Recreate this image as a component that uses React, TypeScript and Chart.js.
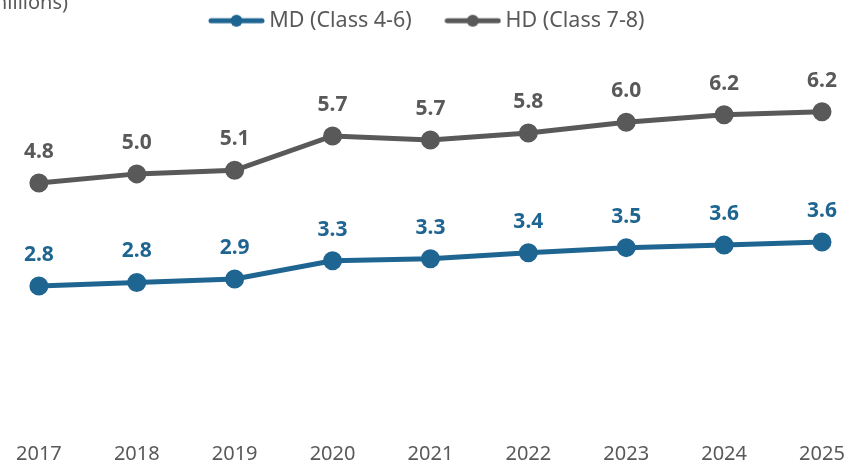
import React, { useEffect, useRef } from "react";
import { Chart, registerables } from "chart.js";

Chart.register(...registerables);

const years = ["2017", "2018", "2019", "2020", "2021", "2022", "2023", "2024", "2025"];
const mdValues = [2.77, 2.84, 2.91, 3.27, 3.31, 3.43, 3.53, 3.58, 3.64];
const hdValues = [4.81, 4.99, 5.06, 5.74, 5.66, 5.8, 6.01, 6.16, 6.22];
const seriesNames = ["MD (Class 4-6)", "HD (Class 7-8)"];
const unitLabel = "(in millions)";

const BLUE = "#1f6591";
const GRAY = "#595959";
const TEXT = "#595959";
const FONT = "'Noto Sans', sans-serif";

function legendIcon(color: string): HTMLCanvasElement {
  const c = document.createElement("canvas");
  c.width = 57;
  c.height = 14;
  const ctx = c.getContext("2d")!;
  ctx.strokeStyle = color;
  ctx.lineWidth = 5;
  ctx.lineCap = "round";
  ctx.beginPath();
  ctx.moveTo(3, 7);
  ctx.lineTo(54, 7);
  ctx.stroke();
  ctx.fillStyle = color;
  ctx.beginPath();
  ctx.arc(28.5, 7, 6, 0, Math.PI * 2);
  ctx.fill();
  return c;
}

const valueLabels = {
  id: "valueLabels",
  afterDatasetsDraw(chart: any) {
    const ctx = chart.ctx;
    chart.data.datasets.forEach((ds: any, i: number) => {
      const meta = chart.getDatasetMeta(i);
      meta.data.forEach((pt: any, j: number) => {
        ctx.save();
        ctx.font = `bold 21px ${FONT}`;
        ctx.fillStyle = ds.borderColor;
        ctx.textAlign = "center";
        ctx.textBaseline = "middle";
        ctx.fillText(Number(ds.data[j]).toFixed(1), pt.x, pt.y - 31);
        ctx.restore();
      });
    });
  },
};

const unitText = {
  id: "unitText",
  afterDraw(chart: any) {
    const ctx = chart.ctx;
    ctx.save();
    ctx.font = `20px ${FONT}`;
    ctx.fillStyle = TEXT;
    ctx.textAlign = "right";
    ctx.textBaseline = "alphabetic";
    ctx.fillText(unitLabel, 68, 9);
    ctx.restore();
  },
};

export default function App() {
  const ref = useRef<HTMLCanvasElement | null>(null);

  useEffect(() => {
    if (!ref.current) return;
    const icons = [legendIcon(BLUE), legendIcon(GRAY)];
    const chart = new Chart(ref.current, {
      type: "line",
      data: {
        labels: years,
        datasets: [
          {
            label: seriesNames[0],
            data: mdValues,
            borderColor: BLUE,
            backgroundColor: BLUE,
            pointBackgroundColor: BLUE,
            pointBorderColor: BLUE,
            borderWidth: 5,
            pointRadius: 7,
            pointHoverRadius: 7,
            tension: 0,
            clip: false as any,
          },
          {
            label: seriesNames[1],
            data: hdValues,
            borderColor: GRAY,
            backgroundColor: GRAY,
            pointBackgroundColor: GRAY,
            pointBorderColor: GRAY,
            borderWidth: 5,
            pointRadius: 7,
            pointHoverRadius: 7,
            tension: 0,
            clip: false as any,
          },
        ],
      },
      options: {
        animation: false,
        responsive: true,
        maintainAspectRatio: false,
        layout: { padding: { top: -29, left: 37, right: 41, bottom: -16 } },
        plugins: {
          tooltip: { enabled: false },
          legend: {
            display: true,
            position: "top",
            labels: {
              usePointStyle: true,
              pointStyleWidth: 44,
              padding: 39,
              color: TEXT,
              font: { family: FONT, size: 21.5 },
              generateLabels: (ch: any) => {
                const items = Chart.defaults.plugins.legend.labels.generateLabels(ch);
                return items.map((it: any, k: number) => ({
                  ...it,
                  pointStyle: icons[k],
                  fontColor: TEXT,
                }));
              },
            },
          },
        },
        scales: {
          x: {
            grid: { display: false, drawTicks: false },
            border: { display: false },
            ticks: {
              color: TEXT,
              font: { family: FONT, size: 20 },
              padding: 16,
              maxRotation: 0,
            },
          },
          y: {
            display: false,
            min: 0,
            max: 7.61,
          },
        },
      },
      plugins: [valueLabels, unitText],
    });
    return () => chart.destroy();
  }, []);

  return (
    <div style={{ position: "fixed", left: 0, top: 0, width: 863, height: 466, background: "#ffffff" }}>
      <canvas ref={ref} />
    </div>
  );
}
